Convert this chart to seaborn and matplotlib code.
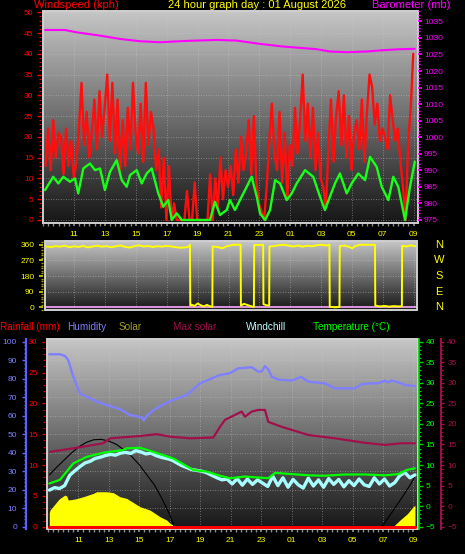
import numpy as np
import matplotlib
matplotlib.use("Agg")
import matplotlib.pyplot as plt
import matplotlib.transforms as mtransforms
from matplotlib.colors import LinearSegmentedColormap
from matplotlib.patches import Rectangle
from matplotlib.ticker import MultipleLocator, FixedLocator, FuncFormatter
import seaborn as sns

# --- data (hours since midnight of day 1, 24 = midnight) ---
gust_t = 9.15 + np.arange(144) / 6
gust = [13, 22, 12, 24, 15, 21, 20, 11, 22, 13, 19, 10,
        14, 22, 33, 18, 26, 15, 21, 29, 17, 31, 20, 27,
        35, 19, 33, 16, 29, 12, 24, 13, 27, 17, 33, 21,
        16, 28, 14, 33, 18, 26, 22, 12, 17, 3, 15, 0,
        13, 0, 4, 0, 0, 0, 0, 7, 0, 0, 9, 0,
        0, 0, 0, 0, 11, 0, 10, 3, 15, 5, 12, 8,
        13, 6, 17, 9, 20, 12, 16, 24, 11, 25, 9, 4,
        2, 0, 8, 19, 28, 16, 12, 26, 9, 21, 5, 18,
        13, 27, 16, 24, 35, 19, 28, 15, 27, 12, 21, 10,
        8, 3, 17, 29, 14, 25, 31, 18, 30, 15, 25, 12,
        21, 24, 17, 29, 14, 26, 35, 32, 23, 28, 19, 22,
        20, 17, 30, 24, 19, 22, 14, 8, 0, 18, 27, 40]

avg_t = [9.12, 9.65, 9.98, 10.3, 10.74, 11.06, 11.27, 11.6, 12.03, 12.36, 12.68, 13.0,
         13.33, 13.76, 14.09, 14.41, 14.63, 15.06, 15.38, 15.71, 16.03, 16.46, 16.78,
         17.11, 17.33, 17.65, 17.98, 19.81, 20.13, 20.46, 20.89, 21.1, 21.43, 21.75,
         22.19, 22.51, 22.84, 23.05, 23.38, 23.7, 24.03, 24.35, 24.78, 25.11, 25.43,
         25.97, 26.5, 26.94, 27.26, 27.58, 27.91, 28.23, 28.67, 28.99, 29.42, 29.86,
         30.18, 30.61, 30.94, 31.37, 31.69, 32.01, 32.45, 32.77, 33.08]
avg = [7.2, 10.4, 8.8, 10.4, 9.2, 10, 6.4, 12.4, 13.6, 12, 12.4, 7.2,
       11.6, 14.4, 9.6, 8, 10.8, 12, 8.8, 11.2, 12.4, 6.4, 3.2,
       4.8, 0, 1.6, 0, 0, 4.4, 1.2, 2.4, 4.8, 2.4, 4.8,
       8, 10.4, 5.6, 1.6, 0, 2.4, 9.6, 8.8, 4.8, 6.4, 8.8,
       12, 10.4, 5.6, 2.4, 5.6, 8.8, 11.2, 6.4, 8.8, 11.2, 9.6,
       15.2, 12.8, 8, 4.8, 10.4, 8, 0, 8, 14]

baro_t = [9.12, 10.41, 11.17, 12.68, 13.98, 15.28, 16.57, 18.3, 20.24, 21.54,
          23.05, 24.56, 26.73, 27.59, 28.67, 29.97, 31.04, 32.12, 33.08]
baro = [1032.4, 1032.4, 1031.7, 1030.7, 1029.7, 1029.0, 1028.7, 1029.1, 1029.4, 1029.2,
        1028.2, 1027.4, 1026.6, 1025.9, 1025.7, 1025.9, 1026.3, 1026.6, 1026.7]

dir_t = [9.2, 9.5, 9.8, 10.1, 10.4, 10.7, 11.0, 11.3, 11.6, 11.9, 12.2, 12.5, 12.8,
         13.1, 13.4, 13.7, 14.0, 14.3, 14.6, 14.9, 15.2, 15.5, 15.8, 16.1, 16.4,
         16.7, 17.0, 17.3, 17.6, 17.9, 18.2, 18.45, 18.5,
         18.52, 18.6, 18.8, 19.0, 19.2, 19.4, 19.6, 19.8, 19.95,
         19.97, 20.3, 20.6, 20.9, 21.1, 21.3, 21.78,
         21.8, 22.0, 22.2, 22.4, 22.64,
         22.66, 23.24,
         23.26, 23.45, 23.63,
         23.65, 24.0, 24.3, 24.6, 24.9, 25.2, 25.5, 25.8, 26.1, 26.4, 26.7, 27.0, 27.3, 27.53,
         27.55, 27.9, 28.18,
         28.2, 28.5, 28.8, 29.0, 29.2, 29.5, 30.48,
         30.5, 30.8, 31.1, 31.4, 31.7, 32.0, 32.22,
         32.24, 32.5, 32.8, 33.1]
dir_deg = [350, 347, 352, 349, 355, 346, 351, 348, 353, 345, 350, 355, 349,
           352, 346, 351, 356, 348, 344, 352, 357, 350, 353, 347, 352,
           349, 354, 350, 346, 343, 345, 350, 360,
           10, 15, 8, 22, 12, 5, 14, 6, 3,
           350, 347, 340, 352, 356, 360, 360,
           10, 20, 14, 8, 2,
           358, 360,
           18, 12, 10,
           350, 353, 358, 360, 355, 350, 356, 349, 355, 351, 357, 360, 356, 360,
           3, 0, 2,
           352, 356, 348, 340, 352, 360, 360,
           10, 5, 8, 4, 7, 5, 6,
           355, 350, 357, 352]

hum_t = [9.09, 9.79, 10.12, 10.34, 10.67, 11.11, 11.76, 12.42, 13.19, 13.73, 14.39, 15.16,
         15.3, 15.49, 15.92, 16.36, 16.8, 17.23, 18.11, 18.99, 20.3, 20.96, 21.5, 22.38,
         22.81, 23.04, 23.25, 23.47, 23.7, 24.13, 25.01, 25.35, 25.6, 26.1, 27.19, 27.85,
         29.16, 29.6, 30.2, 30.69, 31.13, 31.3, 31.57, 32.01, 32.45, 33.1]
humidity = [93.2, 93.2, 92.3, 90, 81, 72, 69.4, 67, 64.9, 63.5, 60.4, 59.1,
            57.5, 60, 63, 65, 67, 68.5, 71.2, 77.5, 82, 83, 85.6, 86.2,
            83.8, 84, 86.8, 85, 81, 79.5, 79, 80, 81, 78.4, 77.5, 74.8,
            74.8, 77, 77.5, 77.5, 79, 78, 79, 78, 76.6, 76]

temp_t = [9.09, 9.79, 10.67, 11.55, 12.64, 13.95, 14.17, 15.05, 15.92, 17.23, 18.55, 19.43,
          20.3, 20.96, 21.94, 23.47, 23.92, 25.01, 26.1, 27.19, 28.51, 29.82, 31.13, 32.01,
          32.56, 33.1]
temp = [5.5, 6.4, 10.4, 12, 13, 13.65, 14.07, 14.2, 13.2, 11.6, 8.8, 8.4,
        7.4, 6.8, 7.2, 6.8, 8.1, 7.8, 7.5, 7.4, 7.7, 7.7, 7.5, 7.8,
        8.8, 9.2]

chill_t = 9.1 + np.arange(73) / 3
chill = [3.9, 4.5, 4.3, 5.0, 7.5, 8.6, 9.6, 10.5, 10.9, 11.6, 11.9, 12.3, 12.6, 12.4,
         12.9, 13.1, 12.8, 13.5, 13.2, 12.7, 12.9, 12.3, 11.9, 11.6, 11.3, 10.6, 9.9,
         9.4, 8.9, 8.7, 8.5, 8.1, 7.5, 6.9, 6.4, 6.6, 5.4, 6.7, 5.1, 6.6, 5.3, 6.4,
         5.6, 4.8, 7.3, 5.0, 6.9, 4.6, 6.5, 5.2, 4.4, 6.8, 4.9, 6.4, 4.6, 6.7, 5.3,
         6.5, 4.7, 6.2, 5.0, 6.6, 5.2, 4.8, 6.9, 5.4, 6.6, 4.9, 5.7, 7.4, 8.2, 6.9, 7.6]

maxsol_t = [9.14, 10.67, 12.64, 13.08, 15.05, 16.14, 17.02, 18.33, 19.86, 20.3, 20.63,
            20.96, 21.72, 21.94, 22.38, 22.81, 23.25, 23.47, 24.35, 26.1, 27.85, 29.82,
            31.13, 32.23, 33.1]
maxsol = [13.2, 14.07, 15.3, 16.5, 17.06, 17.5, 16.9, 16.5, 16.7, 19.3, 21,
          21.6, 23, 21.75, 23, 23.4, 23.4, 20.5, 19.3, 17.3, 16.5, 15.4,
          14.9, 15.3, 15.3]

# solar values read against the left 0-100 scale
solar_t = [9.09, 9.14, 9.68, 9.79, 10.12, 10.23, 10.34, 10.8, 11.32, 11.98, 12.2, 12.64,
           12.86, 13.29, 13.73, 14.17, 15.05, 15.7, 16.36, 16.8, 17.02, 17.23, 17.67,
           31.66, 32.12, 32.6, 32.99, 33.1]
solar = [7.5, 9, 14.4, 15.3, 17.1, 16.6, 14.4, 15, 16.2, 18, 18.9, 18.9,
         18.9, 18.4, 16.2, 15.3, 10.8, 9, 5.4, 3.6, 1.8, 0.9, 0,
         0, 3.6, 7, 10.8, 11.5]
sun_t = [9.1, 9.5, 10, 10.5, 11, 11.5, 12, 12.5, 13, 13.5, 14, 14.5, 15, 15.5, 16,
         16.5, 17, 17.3, 30.92, 31.57, 32.23, 32.78, 33.1]
sun = [28, 31.5, 35.5, 39.5, 43, 45.5, 47, 47.2, 46.3, 44.5, 41.5, 38, 33.5, 28, 22.5,
       15, 6.5, 0, 0, 7.5, 15.5, 22.5, 27]

rain_t = [9.09, 33.1]
rain = [0, 0]

# --- style ---
sns.set_theme(style="dark")
plt.rcParams["font.family"] = ["Liberation Sans", "DejaVu Sans"]

W, H = 465, 554
fig = plt.figure(figsize=(W / 100, H / 100), dpi=100, facecolor="black")

bg = LinearSegmentedColormap.from_list("bg", ["#161616", "#c6c6c6"])
TS = 6


def box(l, t, r, b):
    return [l / W, 1 - b / H, (r - l) / W, (b - t) / H]


def panel(rect, xlim):
    ax = fig.add_axes(rect)
    ax.imshow(np.linspace(0, 1, 256)[:, None], extent=[0, 1, 0, 1], origin="lower",
              transform=ax.transAxes, aspect="auto", cmap=bg, zorder=0)
    for s in ax.spines.values():
        s.set_visible(False)
    ax.add_patch(Rectangle((0, 0), 1, 1, transform=ax.transAxes, fill=False,
                           ec="#d0d0d0", lw=1.4, zorder=10, clip_on=False))
    ax.set_xlim(*xlim)
    ax.xaxis.set_major_locator(FixedLocator(np.arange(11, 34, 2)))
    ax.xaxis.set_minor_locator(MultipleLocator(1 / 3))
    ax.xaxis.set_major_formatter(FuncFormatter(lambda v, p: f"{int(round(v)) % 24:02d}"))
    ax.tick_params(axis="x", which="both", bottom=True, direction="out", colors="#8c8c8c",
                   labelcolor="#ffff00", labelsize=TS, length=2, pad=3.8)
    ax.grid(True, which="major", color="#c8c8c8", ls=(0, (1, 2)), lw=0.6, alpha=0.6)
    return ax


def yscale(ax, side, color, labelcolor, major, minor, out, length, pad, labels=True):
    sp = ax.spines[side]
    sp.set_position(("outward", out))
    ax.yaxis.set_ticks_position(side)
    ax.yaxis.set_major_locator(MultipleLocator(major))
    ax.yaxis.set_minor_locator(MultipleLocator(minor))
    ax.tick_params(axis="y", which="major", direction="out", length=length, width=1,
                   colors=color, labelcolor=labelcolor, labelsize=TS, pad=pad,
                   left=(side == "left"), right=(side == "right"), labelleft=(side == "left") and labels,
                   labelright=(side == "right") and labels)
    ax.tick_params(axis="y", which="minor", direction="out", length=length * 0.5, width=0.8,
                   colors=color, left=(side == "left"), right=(side == "right"))


# --- top panel: wind speed + barometer ---
ax1 = panel(box(43, 11, 418, 222.7), (8.987, 33.29))
sns.lineplot(x=gust_t, y=gust, ax=ax1, color="#ff0e0e", lw=1.7, zorder=3)
sns.lineplot(x=avg_t, y=avg, ax=ax1, color="#18ff18", lw=1.7, zorder=4)
ax1.set_ylim(-0.65, 50.3)
ax1.set_xlabel("")
ax1.set_ylabel("")
ax1.spines["left"].set_visible(False)
yscale(ax1, "left", "#ff0000", "#ff0000", 5, 1, 1.4, 2.9, 2.6)

ax1b = ax1.twinx()
for s in ax1b.spines.values():
    s.set_visible(False)
sns.lineplot(x=baro_t, y=baro, ax=ax1b, color="#ff00ff", lw=1.5)
ax1b.set_ylim(974.18, 1038.14)
ax1b.set_ylabel("")
ax1b.yaxis.set_major_locator(FixedLocator(np.arange(975, 1036, 5)))
ax1b.yaxis.set_minor_locator(MultipleLocator(1))
ax1b.tick_params(axis="y", which="major", direction="out", right=True, length=3, colors="#ff00ff",
                 labelcolor="#ff00ff", labelsize=TS, pad=1.4)
ax1b.tick_params(axis="y", which="minor", direction="out", right=True, length=1.5, colors="#ff00ff")
ax1b.grid(False)

# --- middle panel: wind direction ---
ax2 = panel(box(45, 241, 416.7, 310), (9.117, 33.18))
ax2.axhline(0, color="#d890d8", lw=1.5, zorder=2)
sns.lineplot(x=dir_t, y=dir_deg, ax=ax2, color="#ffff00", lw=1.4, zorder=3)
ax2.set_ylim(-15.5, 381.7)
ax2.set_xlabel("")
ax2.set_ylabel("")
ax2.tick_params(axis="x", which="both", bottom=False, labelbottom=False)
ax2.set_yticks([0, 90, 180, 270, 360])
ax2.yaxis.set_minor_locator(MultipleLocator(15))
ax2.spines["left"].set_position(("outward", 1.4))
ax2.tick_params(axis="y", which="major", left=True, direction="out", length=3, colors="#c8c800",
                labelcolor="#ffff00", labelsize=TS, pad=3.2)
ax2.tick_params(axis="y", which="minor", left=True, direction="out", length=1.5, colors="#a0a000")
ax2.grid(True, which="major", axis="y", color="#c8c8c8", ls=(0, (1, 2)), lw=0.6, alpha=0.6)
tr = mtransforms.blended_transform_factory(ax2.transAxes, ax2.transData)
for deg, letter in zip([360, 270, 180, 90, 0], "NWSEN"):
    ax2.text(1.06, deg, letter, transform=tr, color="#ffff00", fontsize=8,
             ha="center", va="center")

# --- bottom panel: humidity, solar, temperature, windchill, max solar, rain ---
ax3 = panel(box(46.7, 339.3, 418.3, 529), (8.921, 33.32))
ax3.fill_between(solar_t, 0, solar, color="#ffff00", lw=0, zorder=2)
sns.lineplot(x=sun_t, y=sun, ax=ax3, color="#000000", lw=0.8, zorder=3)
sns.lineplot(x=hum_t, y=humidity, ax=ax3, color="#7f7fff", lw=1.7, zorder=4)
ax3.set_ylim(-1.24, 101.3)
ax3.set_xlabel("")
ax3.set_ylabel("")
ax3.spines["left"].set_visible(True)
ax3.spines["left"].set_color("#6060ff")
ax3.spines["left"].set_linewidth(1.6)
yscale(ax3, "left", "#6464ff", "#8080ff", 10, 2, 14.9, 3.1, 3.4)
ax3.grid(True, which="major", color="#c8c8c8", ls=(0, (1, 2)), lw=0.6, alpha=0.6)

ax3t = ax3.twinx()
for s in ax3t.spines.values():
    s.set_visible(False)
sns.lineplot(x=chill_t, y=chill, ax=ax3t, color="#a8ffff", lw=2.4)
sns.lineplot(x=temp_t, y=temp, ax=ax3t, color="#00ff00", lw=1.6)
ax3t.set_ylim(-5.558, 40.585)
ax3t.set_ylabel("")
ax3t.spines["right"].set_visible(True)
ax3t.spines["right"].set_color("#00d000")
ax3t.spines["right"].set_linewidth(1.2)
yscale(ax3t, "right", "#00d000", "#00ff00", 5, 1, 0.5, 2.8, 2.0)
ax3t.grid(False)

ax3m = ax3.twinx()
for s in ax3m.spines.values():
    s.set_visible(False)
sns.lineplot(x=maxsol_t, y=maxsol, ax=ax3m, color="#a0104a", lw=1.6)
ax3m.set_ylim(-5.558, 40.585)
ax3m.set_ylabel("")
ax3m.spines["right"].set_visible(True)
ax3m.spines["right"].set_color("#a0104a")
ax3m.spines["right"].set_linewidth(1.4)
yscale(ax3m, "right", "#a0104a", "#a0104a", 5, 1, 16.3, 2.5, 2.0)
ax3m.grid(False)

ax3r = ax3.twinx()
for s in ax3r.spines.values():
    s.set_visible(False)
sns.lineplot(x=rain_t, y=rain, ax=ax3r, color="#ff0000", lw=2.2)
ax3r.set_ylim(-0.372, 30.39)
ax3r.set_ylabel("")
yscale(ax3r, "left", "#e00000", "#ff0000", 5, 1, 1.2, 2.4, 3.0)
ax3r.grid(False)

# --- header and legend texts ---
def ftext(x, y, s, color, size, ha="left"):
    fig.text(x / W, 1 - y / H, s, color=color, fontsize=size, ha=ha, va="center")


ftext(34, 5.5, "Windspeed (kph)", "#ff0000", 8)
ftext(256.7, 5.5, "24 hour graph day : 01 August 2026", "#ffff00", 8, ha="center")
ftext(371.7, 5.5, "Barometer (mb)", "#ff00ff", 8)

ftext(0, 327, "Rainfall (mm)", "#ff0000", 7.2)
ftext(66.7, 327, "Humidity", "#8080ff", 7.2)
ftext(118.3, 327, "Solar", "#a0a020", 7.2)
ftext(172.7, 327, "Max solar", "#a0104a", 7.2)
ftext(246, 327, "Windchill", "#c0ffff", 7.2)
ftext(313.3, 327, "Temperature (°C)", "#00ff00", 7.2)

fig.savefig("out.png", dpi=100, facecolor="black")
